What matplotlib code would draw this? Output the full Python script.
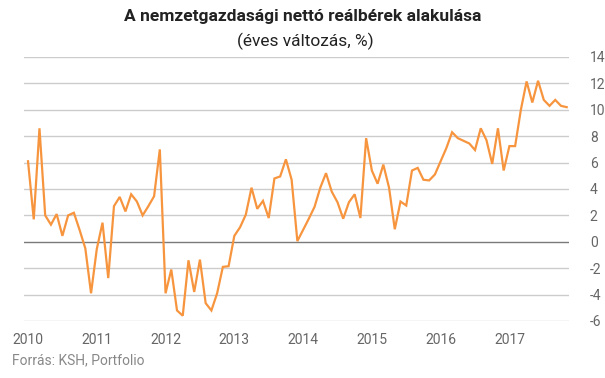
import matplotlib
matplotlib.use("Agg")
import matplotlib.pyplot as plt
import numpy as np

plt.rcParams['font.family'] = ['Roboto', 'DejaVu Sans']

values = [
    6.1, 1.7, 8.6, 2.0, 1.3, 2.1, 0.45, 2.0, 2.2, 0.9, -0.5, -3.9,
    -0.55, 1.45, -2.75, 2.7, 3.4, 2.3, 3.6, 3.05, 2.0, 2.7, 3.45, 7.0,
    -3.9, -2.1, -5.2, -5.6, -1.4, -3.8, -1.35, -4.65, -5.2, -3.9, -1.9, -1.85,
    0.45, 1.1, 2.05, 4.1, 2.5, 3.1, 1.8, 4.8, 4.95, 6.25, 4.7, 0.05,
    0.9, 1.75, 2.65, 4.1, 5.2, 3.8, 3.0, 1.75, 3.0, 3.6, 1.8, 7.85,
    5.4, 4.4, 5.85, 4.1, 0.95, 3.05, 2.75, 5.4, 5.6, 4.7, 4.65, 5.1,
    6.1, 7.1, 8.3, 7.85, 7.65, 7.45, 6.95, 8.6, 7.7, 5.9, 8.6, 5.4,
    7.25, 7.25, 10.0, 12.15, 10.55, 12.2, 10.75, 10.3, 10.75, 10.3, 10.2,
]
start_year = 2010
year_labels = ['2010', '2011', '2012', '2013', '2014', '2015', '2016', '2017']
y_ticks = [-6, -4, -2, 0, 2, 4, 6, 8, 10, 12, 14]

months = np.arange(len(values))

fig = plt.figure(figsize=(6.05, 3.78), dpi=100)
ax = fig.add_axes([24/605, 1-321/378, (569-24)/605, (321-57)/378])

ax.plot(months, values, color='#F7953F', lw=1.6, solid_joinstyle='miter', zorder=3)

ax.set_xlim(-0.7, 94.4)
ax.set_ylim(-6, 14)
ax.set_yticks(y_ticks)
ax.set_yticklabels([str(t) for t in y_ticks])
ax.yaxis.tick_right()
ax.tick_params(axis='y', length=0, pad=15, labelsize=10, labelcolor='#666666')
for lbl in ax.get_yticklabels():
    lbl.set_horizontalalignment('left')

xt = [12*i for i in range(len(year_labels))]
ax.set_xticks(xt)
ax.set_xticklabels(year_labels)
ax.tick_params(axis='x', length=0, pad=9, labelsize=10, labelcolor='#666666')

for t in y_ticks:
    ax.axhline(t, color='#7a7a7a' if t == 0 else '#cccccc', lw=1.0, zorder=1)

for s in ax.spines.values():
    s.set_visible(False)
ax.set_facecolor('white')

fig.text(0.5, 1-16/378, 'A nemzetgazdasági nettó reálbérek alakulása',
         ha='center', va='center', fontsize=12.5, fontweight='bold', color='#222222')
fig.text(305/605, 1-41/378, '(éves változás, %)', ha='center', va='center',
         fontsize=12.5, color='#222222')
fig.text(12/605, 1-360/378, 'Forrás: KSH, Portfolio', ha='left', va='center',
         fontsize=10, color='#888888')

fig.savefig('out.png', dpi=100)
